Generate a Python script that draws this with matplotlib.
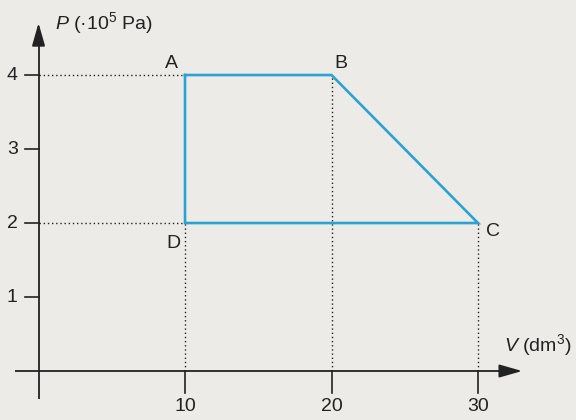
import matplotlib
matplotlib.use("Agg")
import matplotlib.pyplot as plt

# data
labels = ["A", "B", "C", "D"]
V = [10, 20, 30, 10]        # dm^3
P = [4, 4, 2, 2]            # 10^5 Pa
xticks = [10, 20, 30]
yticks = [1, 2, 3, 4]

plt.rcParams['font.family'] = ['Liberation Sans', 'DejaVu Sans']
plt.rcParams['mathtext.fontset'] = 'custom'
plt.rcParams['mathtext.rm'] = 'Liberation Sans'
plt.rcParams['mathtext.it'] = 'Liberation Sans:italic'

bg = '#ecebe8'
ink = '#222222'
blue = '#2aa3d3'
fs = 14

fig = plt.figure(figsize=(5.76, 4.2), dpi=100, facecolor=bg)
ax = fig.add_axes([0, 0, 1, 1])
ax.set_facecolor(bg)
ax.set_xlim(-2.63, 36.69)
ax.set_ylim(-0.662, 5.014)
ax.axis('off')

# axes lines with arrows
ax.plot([-1.6, 32.5], [0, 0], color=ink, lw=1.3, solid_capstyle='butt')
ax.annotate('', xy=(33.2, 0), xytext=(31.6, 0),
            arrowprops=dict(arrowstyle='-|>,head_length=1.4,head_width=0.4', color=ink, lw=1.3))
ax.plot([0, 0], [-0.38, 4.5], color=ink, lw=1.3, solid_capstyle='butt')
ax.annotate('', xy=(0, 4.74), xytext=(0, 4.4),
            arrowprops=dict(arrowstyle='-|>,head_length=1.4,head_width=0.4', color=ink, lw=1.3))

# ticks
for x in xticks:
    ax.plot([x, x], [0, -0.30], color=ink, lw=1.2)
    ax.text(x, -0.48, str(x), ha='center', va='center', fontsize=fs, color=ink)
for y in yticks:
    ax.plot([-0.95, 0], [y, y], color=ink, lw=1.2)
    ax.text(-1.8, y, str(y), ha='center', va='center', fontsize=fs, color=ink)

# dotted guide lines
dot = dict(color=ink, lw=1.0, ls=(0, (1, 2)))
ax.plot([0, V[0]], [P[0], P[0]], **dot)
ax.plot([0, V[3]], [P[3], P[3]], **dot)
ax.plot([V[3], V[3]], [0, P[3]], **dot)
ax.plot([V[1], V[1]], [0, P[1]], **dot)
ax.plot([V[2], V[2]], [0, P[2]], **dot)

# cycle
ax.plot(V + [V[0]], P + [P[0]], color=blue, lw=1.9, solid_joinstyle='miter')

# point labels
ax.text(V[0] - 0.9, P[0] + 0.16, labels[0], ha='center', va='center', fontsize=fs, color=ink)
ax.text(V[1] + 0.65, P[1] + 0.16, labels[1], ha='center', va='center', fontsize=fs, color=ink)
ax.text(V[2] + 1.0, P[2] - 0.12, labels[2], ha='center', va='center', fontsize=fs, color=ink)
ax.text(V[3] - 0.8, P[3] - 0.27, labels[3], ha='center', va='center', fontsize=fs, color=ink)

# axis titles
ax.text(1.1, 4.70, r"$\it{P}$ (·10$^5$ Pa)", ha='left', va='center', fontsize=fs, color=ink)
ax.text(31.8, 0.35, r"$\it{V}$ (dm$^3$)", ha='left', va='center', fontsize=fs, color=ink)

fig.savefig('out.png', dpi=100, facecolor=bg)
